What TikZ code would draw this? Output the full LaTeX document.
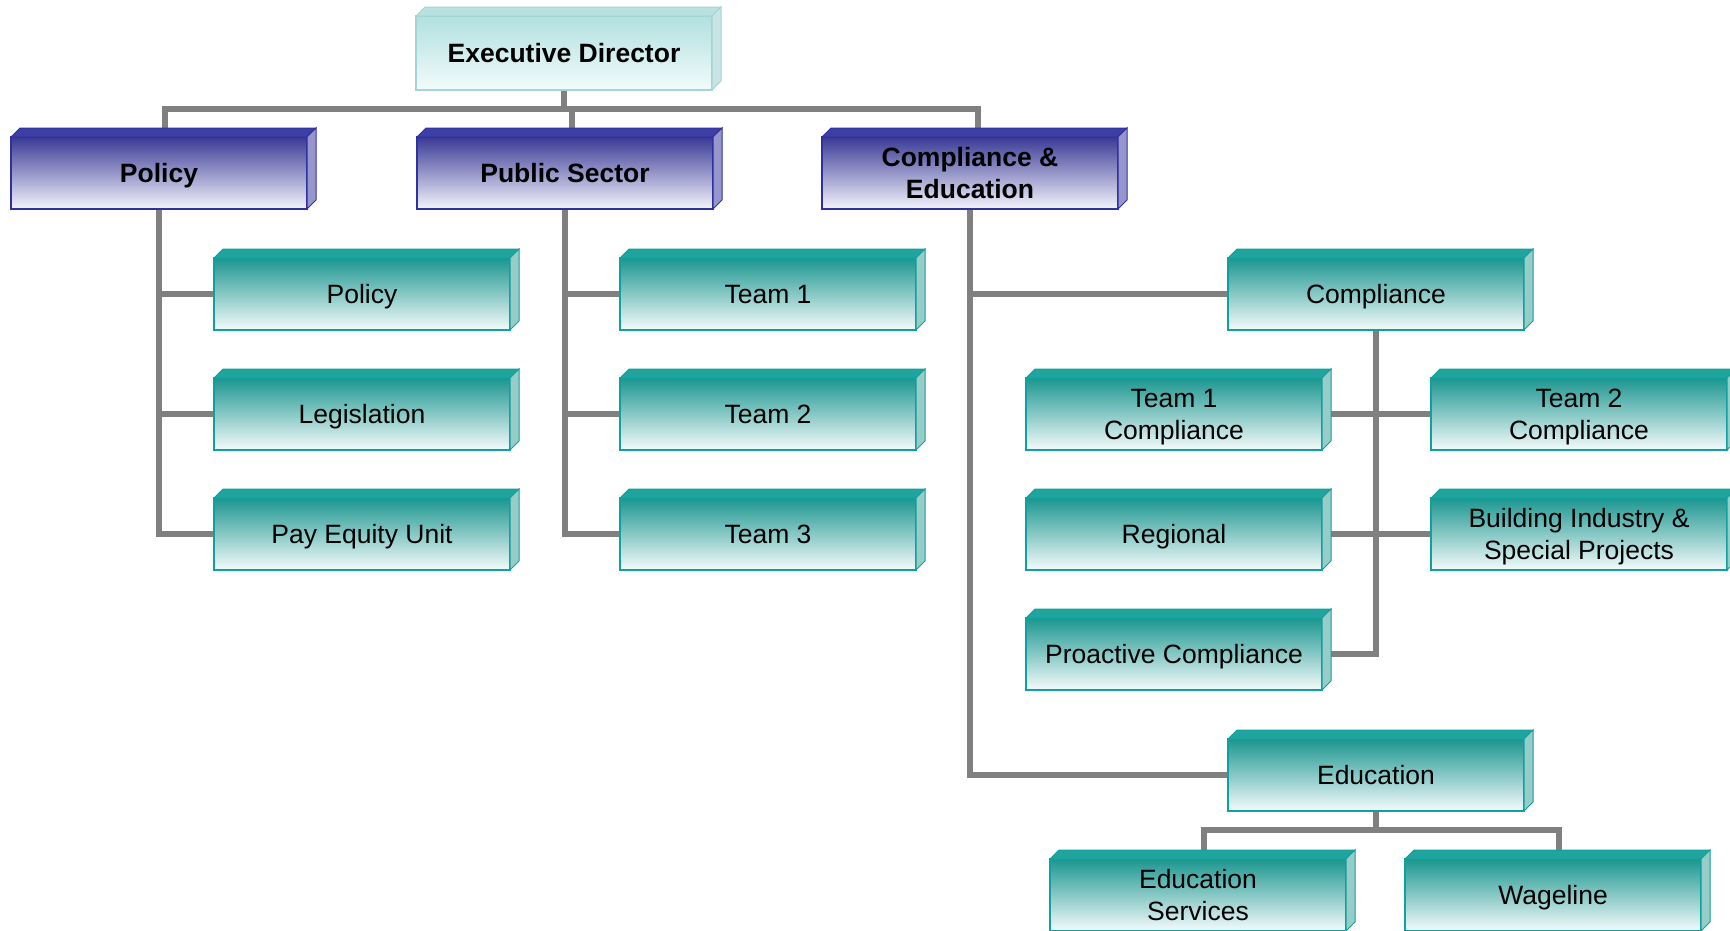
\documentclass[tikz,border=0pt]{standalone}
\usepackage{fontspec}
\setmainfont{Liberation Sans}
\usetikzlibrary{backgrounds}
\definecolor{tealT}{RGB}{28,150,144}
\definecolor{tealW}{RGB}{244,251,251}
\definecolor{tealB}{RGB}{16,160,158}
\definecolor{tealTop}{RGB}{32,165,158}
\definecolor{tealSide}{RGB}{150,205,200}
\definecolor{navyT}{RGB}{58,58,150}
\definecolor{navyW}{RGB}{244,244,252}
\definecolor{navyB}{RGB}{48,48,160}
\definecolor{navyTop}{RGB}{62,62,165}
\definecolor{navySide}{RGB}{150,150,205}
\definecolor{cyanT}{RGB}{178,224,224}
\definecolor{cyanW}{RGB}{242,251,251}
\definecolor{cyanB}{RGB}{165,212,212}
\definecolor{cyanTop}{RGB}{185,225,225}
\definecolor{cyanSide}{RGB}{200,228,228}
\definecolor{connG}{RGB}{128,128,128}
\tikzset{
  box/.style={draw, line width=1.5pt, minimum width=296pt, minimum height=72pt,
    inner sep=0pt, outer sep=0pt, align=center, text depth=0pt},
  tealbox/.style={box, draw=tealB, top color=tealT, bottom color=tealW,
    font=\fontsize{26.5}{32}\selectfont},
  navybox/.style={box, draw=navyB, top color=navyT, bottom color=navyW,
    font=\fontsize{26.5}{32}\selectfont\bfseries},
  cyanbox/.style={box, draw=cyanB, top color=cyanT, bottom color=cyanW,
    font=\fontsize{26.5}{32}\selectfont\bfseries, minimum height=74pt},
  conn/.style={draw=connG, line width=5.5pt}
}
\newcommand{\bevelbox}[4]{%
  \filldraw[fill=#2, draw=#4, line width=1pt] (#1.north west) -- ++(9pt,9pt)
    -- ([shift={(9pt,9pt)}]#1.north east) -- (#1.north east) -- cycle;
  \filldraw[fill=#3, draw=#4, line width=1pt] (#1.north east) -- ++(9pt,9pt)
    -- ([shift={(9pt,9pt)}]#1.south east) -- (#1.south east) -- cycle;}
\begin{document}
\begin{tikzpicture}[x=1pt,y=-1pt]
\useasboundingbox (0,0) rectangle (1730,930);
% nodes
\node[cyanbox] (ed) at (564,53) {Executive Director};
\node[navybox] (pol) at (159,173) {Policy};
\node[navybox] (ps) at (565,173) {Public Sector};
\node[navybox] (ce) at (970,173) {Compliance \&\\Education};
\node[tealbox] (p1) at (362,294) {Policy};
\node[tealbox] (p2) at (362,414) {Legislation};
\node[tealbox] (p3) at (362,534) {Pay Equity Unit};
\node[tealbox] (t1) at (768,294) {Team 1};
\node[tealbox] (t2) at (768,414) {Team 2};
\node[tealbox] (t3) at (768,534) {Team 3};
\node[tealbox] (comp) at (1376,294) {Compliance};
\node[tealbox] (t1c) at (1174,414) {Team 1\\Compliance};
\node[tealbox] (t2c) at (1579,414) {Team 2\\Compliance};
\node[tealbox] (reg) at (1174,534) {Regional};
\node[tealbox] (bld) at (1579,534) {Building Industry \&\\Special Projects};
\node[tealbox] (pro) at (1174,654) {Proactive Compliance};
\node[tealbox] (edu) at (1376,775) {Education};
\node[tealbox] (eds) at (1198,895) {Education\\Services};
\node[tealbox] (wag) at (1553,895) {Wageline};
% bevels
\bevelbox{ed}{cyanTop}{cyanSide}{cyanB}
\foreach \n in {pol,ps,ce} {\bevelbox{\n}{navyTop}{navySide}{navyB}}
\foreach \n in {p1,p2,p3,t1,t2,t3,comp,t1c,t2c,reg,bld,pro,edu,eds,wag}
  {\bevelbox{\n}{tealTop}{tealSide}{tealB}}
% connectors
\begin{pgfonlayer}{background}
\coordinate (bus1) at (564,109);
\coordinate (bus2) at (1376,830);
\draw[conn] (ed.center) -- (bus1);
\draw[conn] ([xshift=6pt]pol.center) |- (bus1) -| ([xshift=8pt]ce.center);
\draw[conn] ([xshift=7pt]ps.center) -- ([xshift=7pt]ps.center |- bus1);
\draw[conn] (pol.center) |- (p3.west);
\draw[conn] (pol.center |- p1) -- (p1.west);
\draw[conn] (pol.center |- p2) -- (p2.west);
\draw[conn] (ps.center) |- (t3.west);
\draw[conn] (ps.center |- t1) -- (t1.west);
\draw[conn] (ps.center |- t2) -- (t2.west);
\draw[conn] (ce.center) |- (edu.west);
\draw[conn] (ce.center |- comp) -- (comp.west);
\draw[conn] (comp.center) |- (pro.east);
\draw[conn] (t1c.east) -- (t2c.west);
\draw[conn] (reg.east) -- (bld.west);
\draw[conn] (edu.center) -- (bus2);
\draw[conn] ([xshift=6pt]eds.center) |- (bus2) -| ([xshift=6pt]wag.center);
\end{pgfonlayer}
\end{tikzpicture}
\end{document}
